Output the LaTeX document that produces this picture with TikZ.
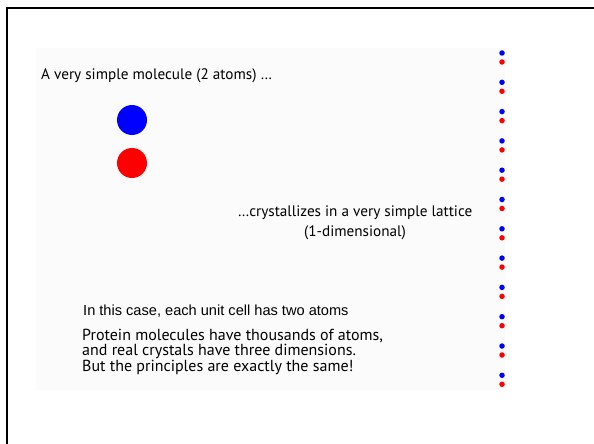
\documentclass[tikz,border=0pt]{standalone}
\usepackage{fontspec}
\setmainfont{PT Sans}
\newfontfamily\arialfont{Liberation Sans}
\usepackage{tikz}
\definecolor{atomBlue}{HTML}{0000FF}
\definecolor{atomRed}{HTML}{FF0000}
\definecolor{slideGray}{HTML}{FBFBFB}

\begin{document}
\begin{tikzpicture}[x=1pt, y=-1pt,
    bigatom/.style={circle, inner sep=0pt, minimum size=30pt},
    dotatom/.style={circle, inner sep=0pt, minimum size=5.5pt},
    slidetext/.style={font=\fontsize{15.2}{14.5}\selectfont, inner sep=0pt}]
    \useasboundingbox (0,0) rectangle (594,444);
    \fill[slideGray] (36,48) rectangle (505,390);
    \draw[line width=2pt] (7,444) -- (7,8) -- (594,8);
    % the molecule
    \node[slidetext, anchor=base west] (molText) at (41,80) {A very simple molecule (2 atoms) \dots};
    \node[bigatom, fill=atomBlue] (molBlue) at (132,120) {};
    \node[bigatom, fill=atomRed] (molRed) at (132,163) {};
    % the lattice
    \foreach \i in {0,...,11} {
        \node[dotatom, fill=atomBlue] (latBlue\i) at (502,{53+29.3*\i}) {};
        \node[dotatom, fill=atomRed] (latRed\i) at (502,{62+29.3*\i}) {};
    }
    \node[slidetext, font=\fontsize{15.2}{20}\selectfont, align=center, anchor=base] (latText) at (355,236.5)
        {\dots crystallizes in a very simple lattice\\(1-dimensional)};
    \node[font=\arialfont\fontsize{14.6}{14}\selectfont, inner sep=0pt, anchor=base west] (cellText) at (83,315)
        {In this case, each unit cell has two atoms};
    \node[slidetext, font=\fontsize{16}{15.2}\selectfont, align=left, anchor=base west] (protText) at (82,371)
        {Protein molecules have thousands of atoms,\\and real crystals have three dimensions.\\But the principles are exactly the same!};
\end{tikzpicture}
\end{document}
